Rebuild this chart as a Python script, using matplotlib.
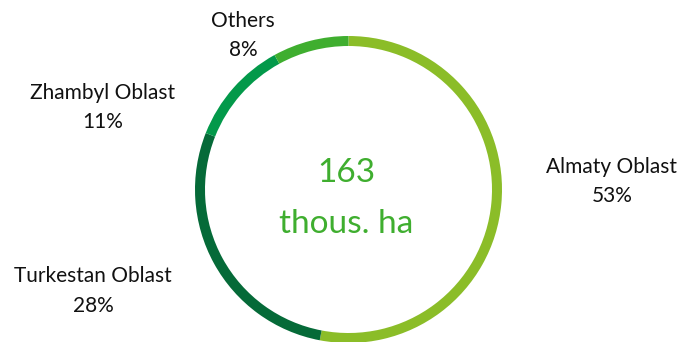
import matplotlib
matplotlib.use("Agg")
import matplotlib.pyplot as plt

regions = ["Almaty Oblast", "Turkestan Oblast", "Zhambyl Oblast", "Others"]
shares = [53, 28, 11, 8]
colors = ["#8bbd28", "#056a38", "#03994a", "#3fae2f"]
total_area = "163"
unit = "thous. ha"

plt.rcParams["font.family"] = ["Lato", "DejaVu Sans"]

W, H = 684, 342
fig = plt.figure(figsize=(W / 100, H / 100), dpi=100)
ax = fig.add_axes([0, 0, 1, 1])

# ring, placed in pixel units (y measured up from the bottom)
cx, cy, r = 348.5, H - 189.5, 153.5
ax.pie(shares, colors=colors, startangle=90, counterclock=False,
       center=(cx, cy), radius=r, frame=True,
       wedgeprops=dict(width=10, linewidth=0))

ax.set_xlim(0, W)
ax.set_ylim(0, H)
ax.set_aspect("equal")
ax.axis("off")

# label centre x and baseline of the first line (pixels from the top)
label_pos = [(612, 173), (93, 282), (103, 99), (243, 27)]
for name, val, (x, y) in zip(regions, shares, label_pos):
    ax.text(x, H - y, name, ha="center", va="baseline", fontsize=15, color="#111111")
    ax.text(x, H - y - 29.5, f"{val}%", ha="center", va="baseline", fontsize=15, color="#111111")

ax.text(346, H - 182, total_area, ha="center", va="baseline", fontsize=24, color="#3fae2f")
ax.text(346, H - 233, unit, ha="center", va="baseline", fontsize=24, color="#3fae2f")

fig.savefig("out.png", dpi=100)
